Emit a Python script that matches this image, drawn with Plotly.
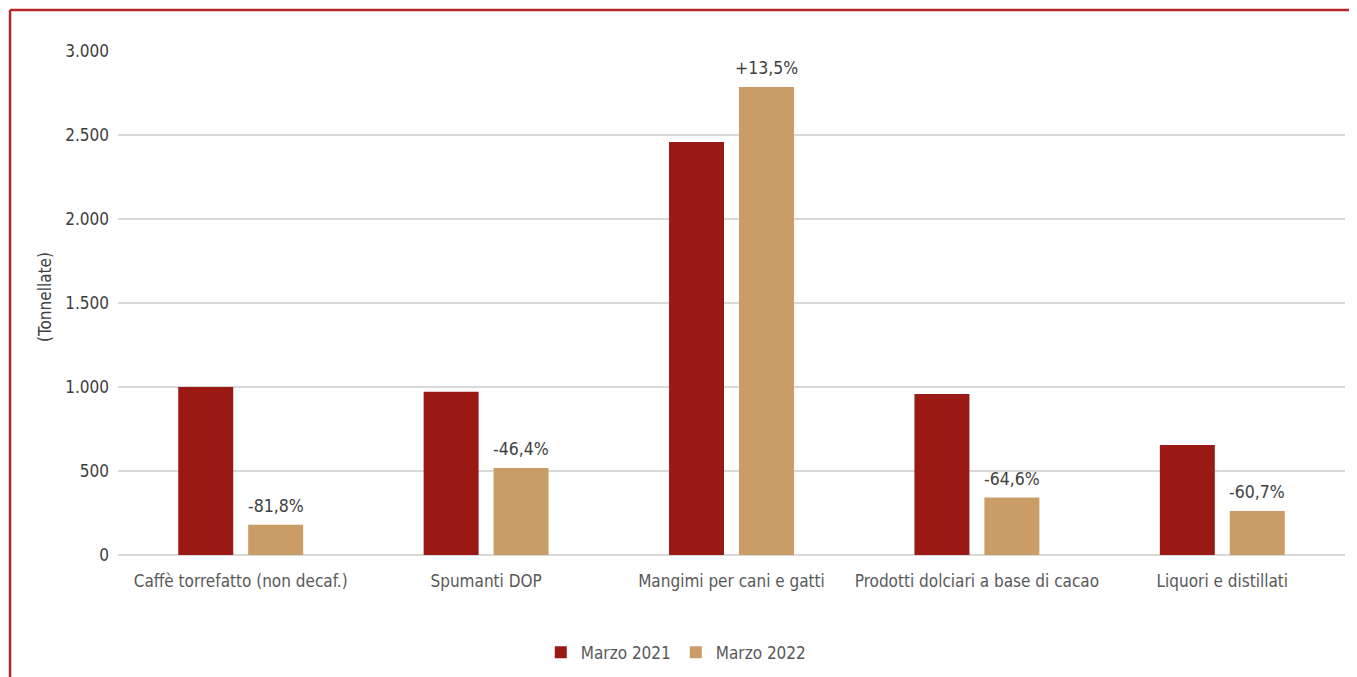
import plotly.graph_objects as go

categories = ["Caffè torrefatto (non decaf.)", "Spumanti DOP", "Mangimi per cani e gatti",
              "Prodotti dolciari a base di cacao", "Liquori e distillati"]
marzo_2021 = [1000, 972, 2458, 958, 655]
marzo_2022 = [180, 518, 2785, 342, 262]
variazioni = ["-81,8%", "-46,4%", "+13,5%", "-64,6%", "-60,7%"]
y_ticks = [0, 500, 1000, 1500, 2000, 2500, 3000]
y_labels = ["0", "500", "1.000", "1.500", "2.000", "2.500", "3.000"]

font_name = "DejaVu Sans Condensed, Liberation Sans Narrow, sans-serif"
text_col = "#404040"

fig = go.Figure()
fig.add_trace(go.Bar(x=categories, y=marzo_2021, name="Marzo 2021",
                     marker=dict(color="#9B1915", line=dict(width=0))))
fig.add_trace(go.Bar(x=categories, y=marzo_2022, name="Marzo 2022",
                     marker=dict(color="#C99D65", line=dict(width=0))))

# etichette variazione sopra le barre 2022
for cat, val, lab in zip(categories, marzo_2022, variazioni):
    fig.add_annotation(x=cat, y=val, text=lab, showarrow=False, xshift=35, yshift=7,
                       yanchor="bottom", font=dict(size=17.5, color=text_col))

# cornice rossa
fig.add_shape(type="line", xref="paper", yref="paper", x0=-0.088, x1=1.02, y0=1.0813, y1=1.0813,
              line=dict(color="#B3262A", width=2.5))
fig.add_shape(type="line", xref="paper", yref="paper", x0=-0.088, x1=-0.088, y0=1.0813, y1=-0.3,
              line=dict(color="#B3262A", width=2.5))

# titolo asse y
fig.add_annotation(text="(Tonnellate)", xref="paper", yref="paper", x=-0.0595, y=0.512,
                   xanchor="center", yanchor="middle",
                   textangle=-90, showarrow=False, font=dict(size=17, color=text_col))

fig.update_layout(
    width=1349, height=669,
    margin=dict(l=110, r=12, t=43, b=122, autoexpand=False),
    plot_bgcolor="white", paper_bgcolor="white",
    font=dict(family=font_name, size=17, color=text_col),
    bargap=0.43, bargroupgap=0.214,
    showlegend=True,
    legend=dict(orientation="h", x=0.455, xanchor="center", y=-0.194, yanchor="middle",
                font=dict(size=17, color="#595959"), itemwidth=30, traceorder="normal"),
    xaxis=dict(showgrid=False, showline=False, ticks="", automargin=False, ticklabelstandoff=14,
               tickfont=dict(size=17, color="#595959")),
    yaxis=dict(range=[0, 3000], tickvals=y_ticks, ticktext=y_labels, showgrid=True,
               gridcolor="#D9D9D9", gridwidth=1.5, zeroline=True, zerolinecolor="#D9D9D9",
               zerolinewidth=1.5, ticks="", ticklabelstandoff=8, automargin=False,
               tickfont=dict(size=17, color=text_col)),
)

fig.write_html("out.html")
